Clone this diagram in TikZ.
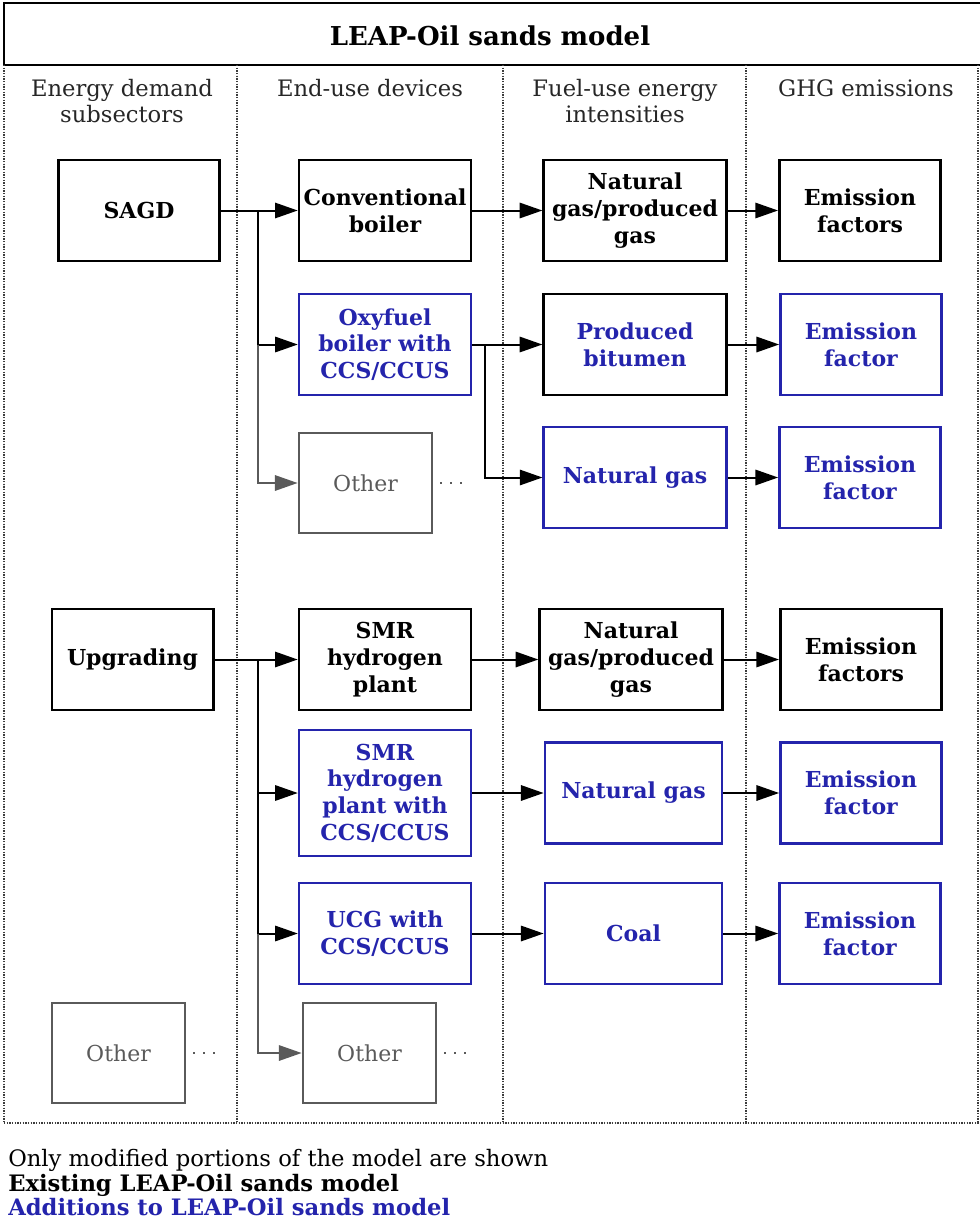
\documentclass[tikz,border=0pt]{standalone}
\usepackage{fontspec}
\setmainfont{DejaVu Serif}
\usetikzlibrary{arrows.meta}
\definecolor{addblue}{RGB}{36,36,172}
\definecolor{othergray}{RGB}{90,90,90}
\definecolor{gridgray}{RGB}{60,60,60}
\tikzset{
  box/.style={draw, line width=2pt, align=center, inner sep=1pt,
    font=\fontsize{16.5}{20}\selectfont\bfseries},
  addbox/.style={box, draw=addblue, text=addblue, line width=1.8pt},
  otherbox/.style={draw=othergray, text=othergray, line width=1.8pt,
    font=\fontsize{16.5}{20}\selectfont, minimum width=100pt, minimum height=75pt},
  sector/.style={minimum width=121pt, minimum height=75.75pt},
  device/.style={minimum width=129pt, minimum height=75.75pt},
  fuel/.style={minimum width=137pt, minimum height=75.75pt},
  factor/.style={minimum width=121pt, minimum height=75.75pt},
  arr/.style={-{Triangle[length=17pt,width=11.5pt]}, line width=1.5pt},
  grayarr/.style={arr, othergray},
  sep/.style={densely dotted, line width=1pt, gridgray},
  colhead/.style={align=center, inner sep=0pt, text=black!85,
    font=\fontsize{17}{20}\selectfont},
  trail/.style={dash pattern=on 1.6pt off 6pt, line width=1.6pt, othergray},
  note/.style={anchor=base west, inner sep=0pt, font=\fontsize{17}{19}\selectfont}
}
\begin{document}
\begin{tikzpicture}[x=0.75pt,y=-0.75pt]
  \useasboundingbox (0,0) rectangle (979,1224);
  % title and columns
  \draw[line width=2pt] (4,3) rectangle (995,65);
  \node[font=\fontsize{19.5}{23}\selectfont\bfseries] (title) at (490,36) {LEAP-Oil sands model};
  \foreach \x in {4,237,503,746,978}
    \draw[sep] (\x,65) -- (\x,1123);
  \draw[sep] (4,1123) -- (979,1123);
  \node[colhead] (h1) at (122,101) {Energy demand\\subsectors};
  \node[colhead] (h2) at (370,88) {End-use devices};
  \node[colhead] (h3) at (625,101) {Fuel-use energy\\intensities};
  \node[colhead] (h4) at (866,88) {GHG emissions};

  % SAGD
  \node[box, sector] (sagd) at (139,210.5) {SAGD};
  \node[box, device] (conv) at (385,210.5) {Conventional\\boiler};
  \node[addbox, device] (oxy) at (385,344.5) {Oxyfuel\\boiler with\\CCS/CCUS};
  \node[otherbox] (oth1) at (365.5,483) {Other};
  \node[box, fuel] (ng1) at (635,210.5) {Natural\\gas/produced\\gas};
  \node[box, fuel, text=addblue] (bit) at (635,344.5) {Produced\\bitumen};
  \node[addbox, fuel] (ng2) at (635,477.5) {Natural gas};
  \node[box, factor] (ef1) at (860,210.5) {Emission\\factors};
  \node[addbox, factor] (ef2) at (861,344.5) {Emission\\factor};
  \node[addbox, factor] (ef3) at (860,477.5) {Emission\\factor};

  \coordinate (b1) at (258,210.5);
  \coordinate (b2) at (485,344.5);
  \draw[arr] (sagd.east) -- (conv.west);
  \draw[arr] (b1) |- (oxy.west);
  \draw[grayarr] (b1 |- oxy.west) |- (oth1.west);
  \draw[trail] ([xshift=5pt]oth1.east) -- +(24,0);
  \draw[arr] (conv.east) -- (ng1.west);
  \draw[arr] (oxy.east) -- (bit.west);
  \draw[arr] (b2) |- (ng2.west);
  \draw[arr] (ng1.east) -- (ef1.west);
  \draw[arr] (bit.east) -- (ef2.west);
  \draw[arr] (ng2.east) -- (ef3.west);

  % Upgrading
  \node[box, sector] (upg) at (132.5,659.5) {Upgrading};
  \node[otherbox] (oth2) at (118.5,1053) {Other};
  \node[box, device] (smr) at (385,659.5) {SMR\\hydrogen\\plant};
  \node[addbox, device, minimum height=94.5pt] (smrccs) at (385,793) {SMR\\hydrogen\\plant with\\CCS/CCUS};
  \node[addbox, device] (ucg) at (385,933.5) {UCG with\\CCS/CCUS};
  \node[otherbox] (oth3) at (369.5,1053) {Other};
  \node[box, fuel] (ng3) at (631,659.5) {Natural\\gas/produced\\gas};
  \node[addbox, fuel, minimum width=133pt] (ng4) at (633.5,793) {Natural gas};
  \node[addbox, fuel, minimum width=133pt] (coal) at (633.5,933.5) {Coal};
  \node[box, factor] (ef4) at (861,659.5) {Emission\\factors};
  \node[addbox, factor] (ef5) at (861,793) {Emission\\factor};
  \node[addbox, factor] (ef6) at (860,933.5) {Emission\\factor};

  \coordinate (b3) at (258,659.5);
  \draw[arr] (upg.east) -- (smr.west);
  \draw[arr] (b3) |- (smrccs.west);
  \draw[arr] (b3) |- (ucg.west);
  \draw[grayarr] (b3 |- ucg.west) |- (oth3.west);
  \draw[trail] ([xshift=5pt]oth2.east) -- +(24,0);
  \draw[trail] ([xshift=5pt]oth3.east) -- +(24,0);
  \draw[arr] (smr.east) -- (ng3.west);
  \draw[arr] (smrccs.east) -- (ng4.west);
  \draw[arr] (ucg.east) -- (coal.west);
  \draw[arr] (ng3.east) -- (ef4.west);
  \draw[arr] (ng4.east) -- (ef5.west);
  \draw[arr] (coal.east) -- (ef6.west);

  % legend
  \node[note] (n1) at (8,1166) {Only modified portions of the model are shown};
  \node[note, font=\fontsize{17}{19}\selectfont\bfseries] (n2) at (8,1191) {Existing LEAP-Oil sands model};
  \node[note, font=\fontsize{17}{19}\selectfont\bfseries, text=addblue] (n3) at (8,1215) {Additions to LEAP-Oil sands model};
\end{tikzpicture}
\end{document}
